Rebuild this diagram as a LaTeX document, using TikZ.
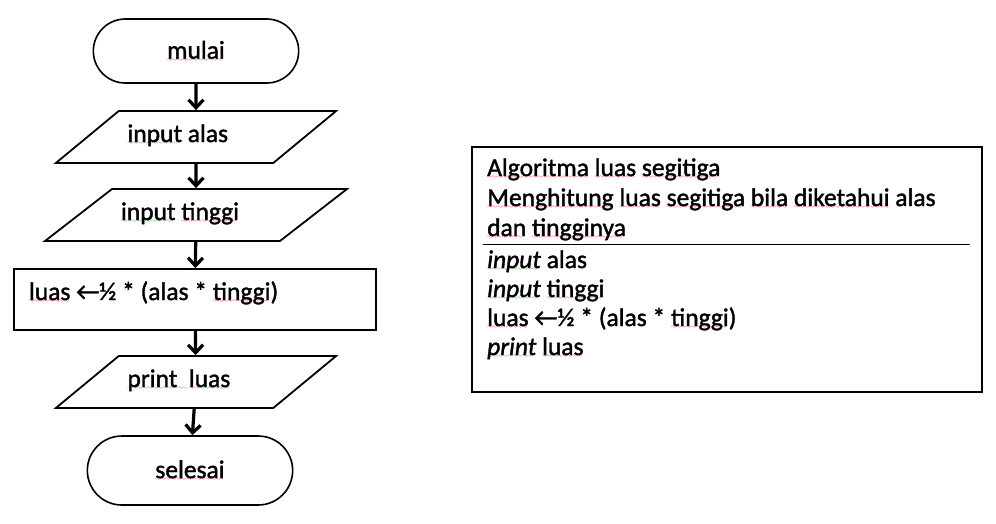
\documentclass[tikz,border=0pt]{standalone}
\usepackage{fontspec}
\setmainfont{Carlito}[FakeBold=1.5]
\usetikzlibrary{arrows.meta,shapes.geometric,shapes.misc}
\font\wavefont=lasy6
\newcommand\wavyline[2]{\setbox0\hbox{#2}\rlap{\color{#1}\raisebox{-2.5pt}{\hbox to \wd0{\leaders\hbox{\wavefont\char58}\hfill}}}\box0\relax}
\newcommand\redwave[1]{\wavyline{red}{#1}}
\newcommand\greenwave[1]{\wavyline{green!60!black}{#1}}
\tikzstyle{flowtext}=[font=\fontsize{25.5}{30}\selectfont]
\tikzstyle{terminal}=[flowtext,draw,rounded rectangle,line width=1.6pt,minimum width=212pt,minimum height=64pt]
\tikzstyle{iobox}=[flowtext,draw,trapezium,trapezium stretches=true,trapezium left angle=43,trapezium right angle=137,line width=1.8pt,minimum width=281pt,inner sep=0pt,text width=137pt,align=flush left,text height=31pt,text depth=21pt]
\tikzstyle{processbox}=[flowtext,draw,line width=1.8pt,minimum width=362pt,minimum height=61pt,inner xsep=15pt,inner ysep=0pt,text width=332pt,align=flush left,text height=16pt,text depth=15pt]
\tikzstyle{flowarc}=[-{Straight Barb[length=8pt,width=15pt]},line width=3.2pt]
\tikzstyle{algotext}=[flowtext,inner sep=0pt,align=left,anchor=base west]

\begin{document}
\begin{tikzpicture}[x=1pt,y=-1pt]
\useasboundingbox (0,0) rectangle (996,523);

\node[terminal] (T1) at (196,51) {\redwave{mulai}};
\node[iobox] (P1) at (196,137) {\greenwave{input} alas};
\node[iobox,trapezium left angle=41,trapezium right angle=139,minimum width=302pt,text width=150pt] (P2) at (196,215) {\greenwave{input} \redwave{tinggi}};
\node[processbox] (R1) at (195,299.5) {\redwave{luas} ←½ * (alas * \redwave{tinggi})};
\node[iobox] (P3) at (196,382) {\greenwave{print\ \ }\redwave{luas}};
\node[terminal,minimum height=69pt] (T2) at (190,470.5) {\redwave{selesai}};

\draw[flowarc] (T1) -- (P1);
\draw[flowarc] (P1) -- (P2);
\draw[flowarc] (P2) -- (R1);
\draw[flowarc] (R1) -- (P3);
\draw[flowarc] (P3) -- (T2);

\node[draw,line width=1.2pt,minimum width=510pt,minimum height=245pt] (FRAME) at (727,269.5) {};
\node[algotext] (HEAD) at (487,236) {\redwave{Algoritma} \redwave{luas} \redwave{segitiga}\\
 \redwave{Menghitung} \redwave{luas} \redwave{segitiga} \redwave{bila} \redwave{diketahui} alas\\
 \redwave{dan} \redwave{tingginya}};
\node[algotext,font=\fontsize{25.5}{29}\selectfont] (BODY) at (487,355) {\greenwave{\textit{input}} alas\\
 \greenwave{\textit{input}} \redwave{tinggi}\\
 \redwave{luas} ←½ * (alas * \redwave{tinggi})\\
 \greenwave{\textit{print}} \redwave{luas}};

\coordinate (SEPW) at (483,244);
\coordinate (SEPE) at (970,244);
\draw[line width=1pt] (SEPW) -- (SEPE);

\end{tikzpicture}
\end{document}
